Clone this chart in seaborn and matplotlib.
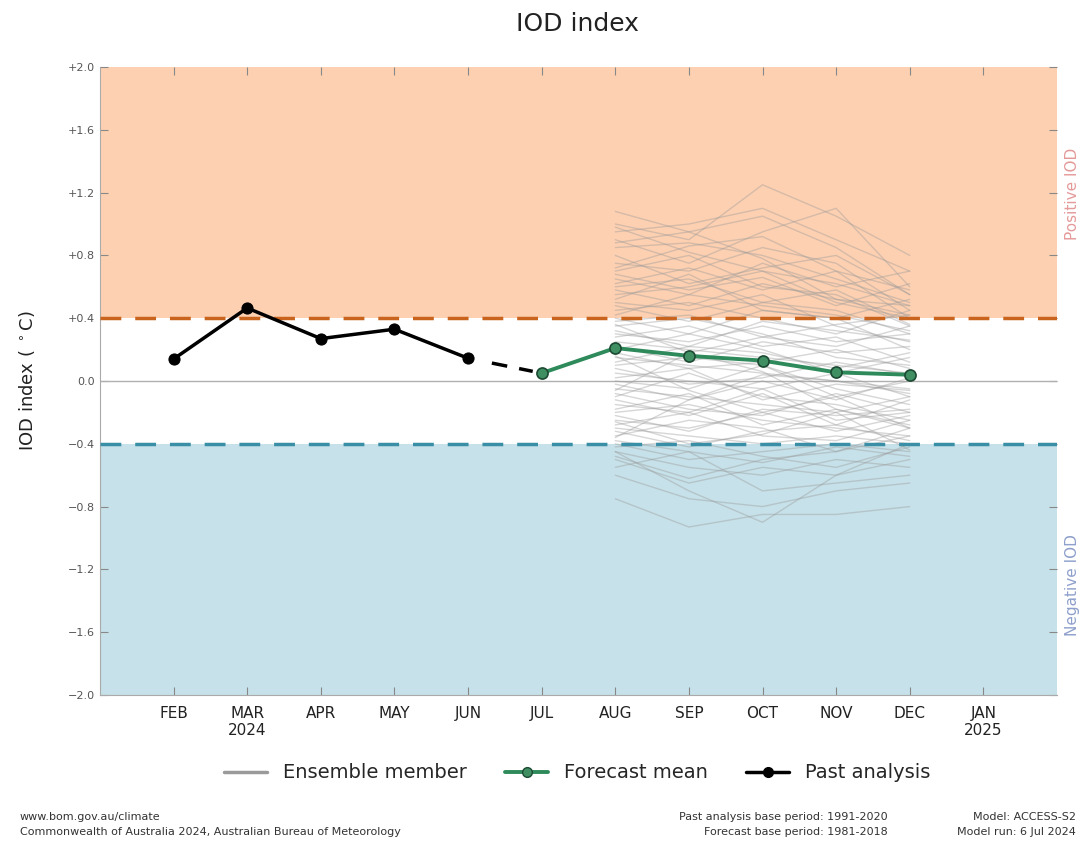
import numpy as np
import pandas as pd
import matplotlib
matplotlib.use("Agg")
import matplotlib.pyplot as plt
import seaborn as sns
from matplotlib.lines import Line2D

# ---------------- data ----------------
month_labels = ["FEB", "MAR\n2024", "APR", "MAY", "JUN", "JUL", "AUG", "SEP",
                "OCT", "NOV", "DEC", "JAN\n2025"]
month_pos = list(range(1, 13))

past_months = [1, 2, 3, 4, 5]
past_values = [0.14, 0.465, 0.27, 0.33, 0.145]

bridge_months = [5, 6]
bridge_values = [0.145, 0.05]

fc_months = [6, 7, 8, 9, 10, 11]
fc_values = [0.05, 0.21, 0.16, 0.13, 0.055, 0.04]

ens_months = [7, 8, 9, 10, 11]
ens_members = [
    [1.08, 0.95, 1.05, 0.85, 0.55],
    [1.00, 0.90, 1.25, 1.05, 0.80],
    [0.95, 1.00, 1.10, 0.90, 0.70],
    [0.90, 0.75, 0.95, 1.10, 0.60],
    [0.85, 0.88, 0.80, 0.65, 0.50],
    [0.80, 0.62, 0.72, 0.80, 0.55],
    [0.75, 0.70, 0.85, 0.75, 0.45],
    [0.70, 0.80, 0.60, 0.55, 0.35],
    [0.68, 0.58, 0.66, 0.48, 0.62],
    [0.65, 0.55, 0.75, 0.60, 0.70],
    [0.62, 0.72, 0.58, 0.70, 0.40],
    [0.60, 0.65, 0.50, 0.45, 0.30],
    [0.58, 0.48, 0.62, 0.52, 0.48],
    [0.55, 0.60, 0.70, 0.50, 0.40],
    [0.52, 0.68, 0.45, 0.40, 0.52],
    [0.50, 0.45, 0.55, 0.35, 0.25],
    [0.48, 0.38, 0.50, 0.58, 0.36],
    [0.45, 0.50, 0.40, 0.30, 0.45],
    [0.42, 0.55, 0.48, 0.42, 0.32],
    [0.40, 0.30, 0.45, 0.40, 0.20],
    [0.38, 0.42, 0.28, 0.22, 0.35],
    [0.35, 0.40, 0.30, 0.15, 0.10],
    [0.32, 0.22, 0.38, 0.32, 0.26],
    [0.30, 0.25, 0.35, 0.25, 0.30],
    [0.28, 0.35, 0.22, 0.28, 0.12],
    [0.25, 0.20, 0.15, 0.10, 0.05],
    [0.22, 0.12, 0.25, 0.18, 0.22],
    [0.20, 0.30, 0.20, 0.05, 0.15],
    [0.18, 0.08, 0.12, 0.20, 0.08],
    [0.15, 0.10, 0.05, 0.00, -0.05],
    [0.12, 0.22, 0.18, 0.08, 0.18],
    [0.10, 0.15, 0.10, -0.10, 0.00],
    [0.08, -0.02, 0.02, 0.12, 0.04],
    [0.05, 0.00, -0.05, 0.05, -0.10],
    [0.02, 0.08, -0.12, -0.02, -0.06],
    [0.00, -0.05, 0.10, -0.05, -0.15],
    [-0.02, -0.12, 0.00, -0.12, 0.02],
    [-0.05, -0.10, -0.15, -0.20, -0.10],
    [-0.08, -0.18, -0.22, -0.08, -0.20],
    [-0.10, 0.05, -0.10, -0.15, -0.25],
    [-0.12, -0.22, -0.08, -0.28, -0.12],
    [-0.15, -0.20, -0.05, -0.25, -0.20],
    [-0.18, -0.08, -0.28, -0.18, -0.28],
    [-0.20, -0.15, -0.25, -0.30, -0.35],
    [-0.22, -0.32, -0.18, -0.22, -0.18],
    [-0.25, -0.30, -0.20, -0.10, -0.30],
    [-0.28, -0.20, -0.35, -0.38, -0.25],
    [-0.30, -0.35, -0.40, -0.35, -0.40],
    [-0.32, -0.42, -0.32, -0.28, -0.38],
    [-0.35, -0.25, -0.30, -0.45, -0.30],
    [-0.38, -0.45, -0.52, -0.42, -0.48],
    [-0.40, -0.50, -0.45, -0.40, -0.45],
    [-0.42, -0.38, -0.48, -0.55, -0.42],
    [-0.45, -0.55, -0.60, -0.50, -0.55],
    [-0.48, -0.62, -0.50, -0.45, -0.35],
    [-0.50, -0.65, -0.55, -0.60, -0.50],
    [-0.55, -0.45, -0.70, -0.65, -0.60],
    [-0.45, -0.70, -0.90, -0.60, -0.40],
    [-0.60, -0.75, -0.80, -0.70, -0.65],
    [-0.75, -0.93, -0.85, -0.85, -0.80],
    [0.98, 0.82, 0.70, 0.62, 0.48],
    [0.88, 0.95, 0.78, 0.52, 0.42],
    [0.72, 0.86, 0.92, 0.70, 0.58],
    [0.36, 0.18, 0.28, 0.36, 0.42],
    [-0.06, 0.18, 0.06, -0.18, -0.30],
    [-0.26, -0.40, -0.34, -0.20, -0.44],
    [0.16, -0.06, -0.20, -0.32, -0.22],
    [-0.36, -0.12, 0.04, 0.00, -0.08],
]

y_ticks = [-2.0, -1.6, -1.2, -0.8, -0.4, 0.0, 0.4, 0.8, 1.2, 1.6, 2.0]
y_tick_labels = ["\u22122.0", "\u22121.6", "\u22121.2", "\u22120.8", "\u22120.4", "0.0",
                 "+0.4", "+0.8", "+1.2", "+1.6", "+2.0"]
pos_threshold = 0.4
neg_threshold = -0.4

# ---------------- style ----------------
sns.set_theme(style="white")
plt.rcParams["font.family"] = ["DejaVu Sans"]

fig = plt.figure(figsize=(10.89, 8.42), dpi=100)
ax = fig.add_axes([0.0918, 0.1746, 0.8788, 0.7458])

ax.set_xlim(0, 13)
ax.set_ylim(-2, 2)

# background regions
ax.axhspan(pos_threshold, 2.0, color="#fdd0b1", zorder=0, lw=0)
ax.axhspan(-2.0, neg_threshold, color="#c6e1e9", zorder=0, lw=0)
ax.axhline(0, color="#b0b0b0", lw=1.0, zorder=1)

# ensemble members
rows = []
for i, m in enumerate(ens_members):
    for mo, v in zip(ens_months, m):
        rows.append({"member": i, "month": mo, "value": v})
ens_df = pd.DataFrame(rows)
sns.lineplot(data=ens_df, x="month", y="value", units="member", estimator=None,
             color="#9a9a9a", alpha=0.4, lw=1.0, ax=ax, zorder=2, legend=False)

# thresholds
ax.axhline(pos_threshold, color="#c8641e", lw=2.5, ls=(0, (6, 4)), zorder=3)
ax.axhline(neg_threshold, color="#3a8fa6", lw=2.5, ls=(0, (6, 4)), zorder=3)

# bridge dashed line
bridge_df = pd.DataFrame({"month": bridge_months, "value": bridge_values})
n_before = len(ax.lines)
sns.lineplot(data=bridge_df, x="month", y="value", color="black", lw=2.5,
             ax=ax, zorder=4, legend=False)
for ln in ax.lines[n_before:]:
    ln.set_linestyle((0, (0.0, 7.0, 4.5, 3.5, 4.0, 10.0)))

# past analysis
past_df = pd.DataFrame({"month": past_months, "value": past_values})
sns.lineplot(data=past_df, x="month", y="value", color="black", lw=2.5,
             marker="o", markersize=8, markeredgecolor="black", ax=ax, zorder=5,
             legend=False)

# forecast mean
fc_df = pd.DataFrame({"month": fc_months, "value": fc_values})
sns.lineplot(data=fc_df, x="month", y="value", color="#2e8a5a", lw=2.8,
             marker="o", markersize=8, markerfacecolor="#3f8f62",
             markeredgecolor="#1c4a33", markeredgewidth=1.2, ax=ax, zorder=6,
             legend=False)

# axes formatting
ax.set_xticks(month_pos)
ax.set_xticklabels(month_labels, fontsize=11, color="#222222")
ax.set_yticks(y_ticks)
ax.set_yticklabels(y_tick_labels, fontsize=8, color="#555555")
ax.tick_params(axis="both", which="both", direction="in", length=6, width=0.8,
               color="#888888", top=True, right=True, bottom=True, left=True)
ax.tick_params(axis="x", pad=8)
ax.set_xlabel("")
ax.set_ylabel("IOD index ( $^\\circ$C)", fontsize=13, color="#222222", labelpad=22)
for s in ["left", "right", "top", "bottom"]:
    ax.spines[s].set_color("#aaaaaa")
    ax.spines[s].set_linewidth(0.8)
ax.spines["top"].set_visible(False)
ax.spines["right"].set_visible(False)

# side labels
fig.text(0.985, 0.77, "Positive IOD", rotation=90, ha="center", va="center",
         fontsize=11, color="#e59a9a")
fig.text(0.985, 0.305, "Negative IOD", rotation=90, ha="center", va="center",
         fontsize=11, color="#8e9fcb")

# title
fig.text(0.53, 0.972, "IOD index", ha="center", va="center", fontsize=18,
         color="#222222")

# legend
handles = [
    Line2D([0], [0], color="#9a9a9a", lw=2.5),
    Line2D([0], [0], color="#2e8a5a", lw=2.8, marker="o", markersize=7,
           markerfacecolor="#3f8f62", markeredgecolor="#1c4a33"),
    Line2D([0], [0], color="black", lw=2.5, marker="o", markersize=7),
]
fig.legend(handles, ["Ensemble member", "Forecast mean", "Past analysis"],
           loc="center", bbox_to_anchor=(0.53, 0.082), ncol=3, frameon=False,
           fontsize=14, handlelength=2.2, columnspacing=2.0)

# footer
fig.text(0.018, 0.030, "www.bom.gov.au/climate", fontsize=8, color="#333333",
         ha="left", va="center")
fig.text(0.018, 0.012, "Commonwealth of Australia 2024, Australian Bureau of Meteorology",
         fontsize=8, color="#333333", ha="left", va="center")
fig.text(0.815, 0.030, "Past analysis base period: 1991-2020", fontsize=8,
         color="#333333", ha="right", va="center")
fig.text(0.815, 0.012, "Forecast base period: 1981-2018", fontsize=8,
         color="#333333", ha="right", va="center")
fig.text(0.988, 0.030, "Model: ACCESS-S2", fontsize=8, color="#333333",
         ha="right", va="center")
fig.text(0.988, 0.012, "Model run: 6 Jul 2024", fontsize=8, color="#333333",
         ha="right", va="center")

fig.savefig("out.png", dpi=100)
